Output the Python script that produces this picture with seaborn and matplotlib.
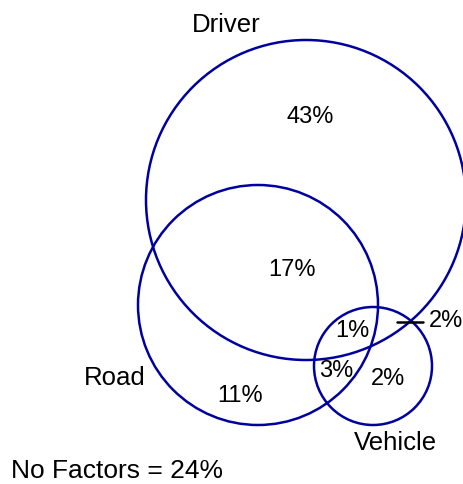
import matplotlib
matplotlib.use("Agg")
import matplotlib.pyplot as plt
from matplotlib.patches import Circle
import seaborn as sns

# set names and region percentages
sets = ["Driver", "Road", "Vehicle"]
regions = ["Driver only", "Driver & Road", "All three", "Driver & Vehicle",
           "Road & Vehicle", "Vehicle only", "Road only"]
region_pct = [43, 17, 1, 2, 3, 2, 11]
no_factors_pct = 24

sns.set_style("white")
plt.rcParams["font.family"] = ["Liberation Sans", "DejaVu Sans"]
plt.rcParams["text.color"] = "black"

line_color = "#0000a0"

# layout (pixel coordinates, y pointing down)
circle_geom = {"Driver": (306, 200, 160), "Road": (258, 305, 120), "Vehicle": (373, 366, 59)}
set_label_pos = {"Driver": (226, 25), "Road": (115, 378), "Vehicle": (395, 443)}
region_pos = [(310, 117), (292, 270), (352, 331), (446, 321), (336, 371), (388, 379), (240, 396)]

fig = plt.figure(figsize=(4.64, 4.84), dpi=100)
ax = fig.add_axes([0, 0, 1, 1])
ax.set_xlim(0, 464)
ax.set_ylim(484, 0)
ax.set_aspect("equal")
ax.axis("off")

for name in sets:
    cx, cy, r = circle_geom[name]
    ax.add_patch(Circle((cx, cy), r, fill=False, edgecolor=line_color, linewidth=1.8))
    lx, ly = set_label_pos[name]
    ax.text(lx, ly, name, fontsize=18.5, ha="center", va="center", color="black")

for reg, pct, (x, y) in zip(regions, region_pct, region_pos):
    ax.text(x, y, f"{pct}%", fontsize=17, ha="center", va="center", color="black")

# leader for the small Driver & Vehicle slice
ax.plot([397, 423], [322, 322], color="black", linewidth=1.8)

ax.text(11, 471, f"No Factors = {no_factors_pct}%", fontsize=19, ha="left", va="center",
        color="black")

fig.savefig("out.png", dpi=100)
